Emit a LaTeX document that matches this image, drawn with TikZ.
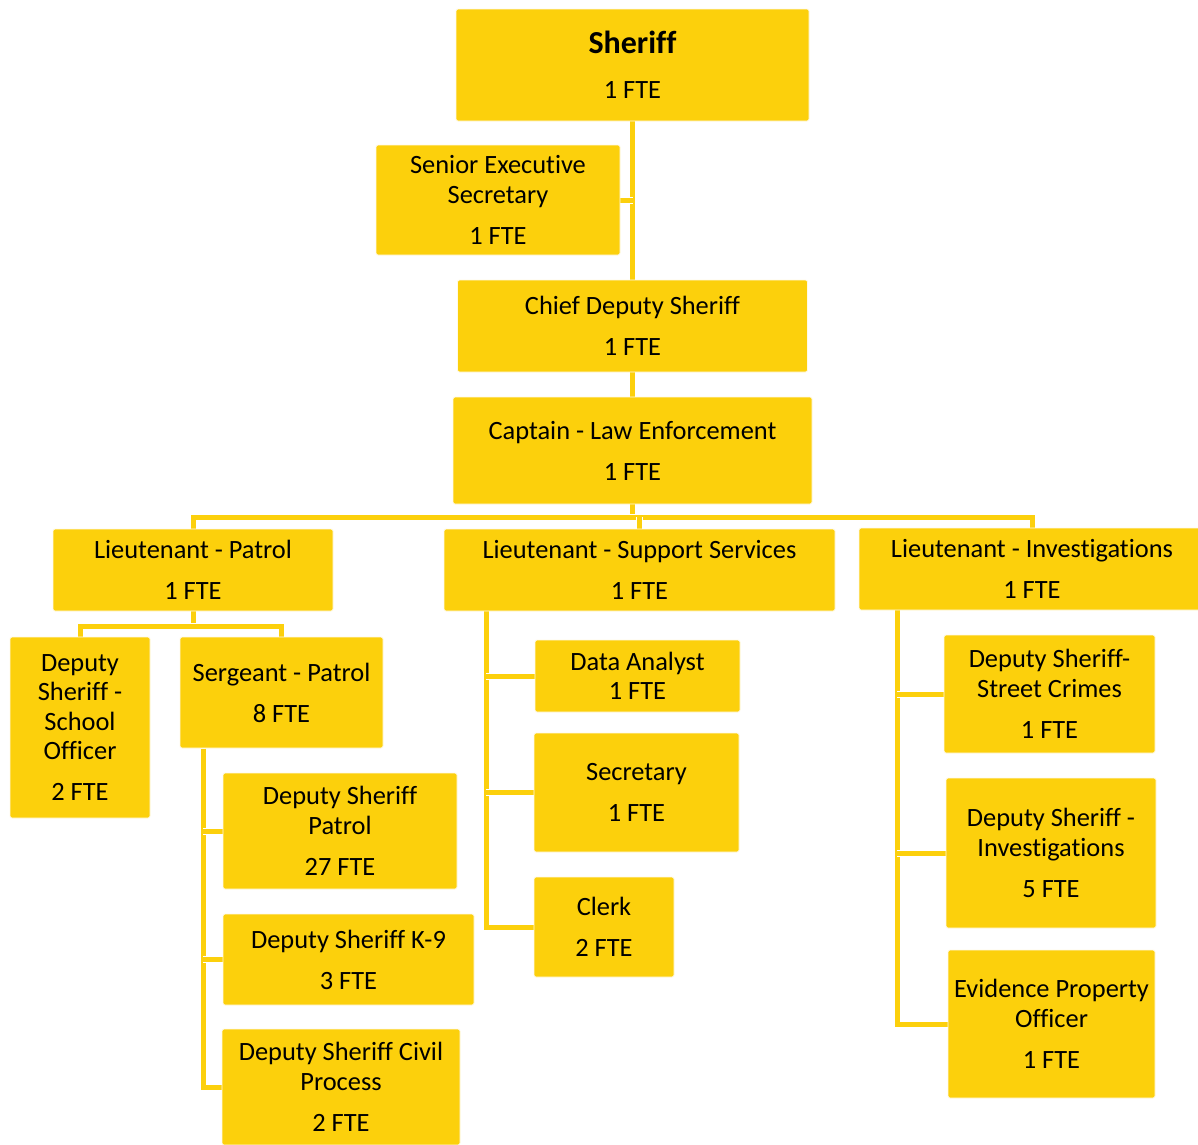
\documentclass[tikz,border=0pt]{standalone}
\usepackage{fontspec}
\setmainfont{Carlito}[Ligatures=NoCommon]
\usetikzlibrary{backgrounds}
\definecolor{yel}{RGB}{252,208,12}
\newcommand{\gp}{\\[11.5pt]}
\tikzset{
  box/.style={fill=yel, draw=white!90!yel, line width=0.8pt, rounded corners=2pt,
    inner sep=0pt, align=center, text=black,
    font=\fontsize{26.4}{29.5}\selectfont},
  conn/.style={draw=yel, line width=5pt, preaction={draw=white, line width=7pt}},
}
\begin{document}
\begin{tikzpicture}[x=1pt,y=-1pt]
\clip (0,0) rectangle (1198,1144);
\useasboundingbox (0,0) rectangle (1198,1144);

\node[box, minimum width=353, minimum height=112] (sheriff) at (632.5,65)
  {{\fontsize{32}{36}\selectfont\bfseries Sheriff}\\[16pt]1 FTE};
\node[box, minimum width=244, minimum height=110] (sec) at (498,200)
  {Senior Executive\\Secretary\gp 1 FTE};
\node[box, minimum width=350, minimum height=92] (chief) at (632.5,326)
  {Chief Deputy Sheriff\gp 1 FTE};
\node[box, minimum width=359, minimum height=107] (captain) at (632.5,450.5)
  {Captain - Law Enforcement\gp 1 FTE};
\node[box, minimum width=280, minimum height=82] (ltpat) at (193,570)
  {Lieutenant - Patrol\gp 1 FTE};
\node[box, minimum width=391, minimum height=82] (ltsup) at (639.5,570)
  {Lieutenant - Support Services\gp 1 FTE};
\node[box, minimum width=346, minimum height=82] (ltinv) at (1032,569)
  {Lieutenant - Investigations\gp 1 FTE};
\node[box, minimum width=140, minimum height=181] (school) at (80,727.5)
  {Deputy\\Sheriff -\\School\\Officer\gp 2 FTE};
\node[box, minimum width=203, minimum height=111] (sgt) at (281.5,692.5)
  {Sergeant - Patrol\gp 8 FTE};
\node[box, minimum width=234, minimum height=116] (dspat) at (340,831)
  {Deputy Sheriff\\Patrol\gp 27 FTE};
\node[box, minimum width=251, minimum height=91] (k9) at (348.5,959.5)
  {Deputy Sheriff K-9\gp 3 FTE};
\node[box, minimum width=238, minimum height=116] (civil) at (341,1087)
  {Deputy Sheriff Civil\\Process\gp 2 FTE};
\node[box, minimum width=205, minimum height=72] (data) at (637.5,676)
  {Data Analyst\\1 FTE};
\node[box, minimum width=205, minimum height=119] (secy) at (636.5,792.5)
  {Secretary\gp 1 FTE};
\node[box, minimum width=140, minimum height=100] (clerk) at (604,927)
  {Clerk\gp 2 FTE};
\node[box, minimum width=211, minimum height=118] (street) at (1049.5,694)
  {Deputy Sheriff-\\Street Crimes\gp 1 FTE};
\node[box, minimum width=210, minimum height=150] (dsinv) at (1051,853)
  {Deputy Sheriff -\\Investigations\gp 5 FTE};
\node[box, minimum width=207, minimum height=148] (evid) at (1051.5,1024)
  {Evidence Property\\Officer\gp 1 FTE};

\coordinate (bus) at (632.5,517);
\coordinate (pbus) at (193,626);
\coordinate (sgtT) at (203,748.5);
\coordinate (supT) at (486,611);
\coordinate (invT) at (897,610);

\begin{scope}[on background layer]
\fill[white] (0,0) rectangle (1198,1144);
\draw[conn] (sheriff.south) -- (chief.north);
\draw[conn] (chief.south) -- (captain.north);
\draw[conn] (sec.east) -- (sec.east -| sheriff.south);
\draw[conn] (captain.south) -- (bus);
\draw[conn] (ltpat.north) |- (bus) -| (ltinv.north);
\draw[conn] (ltsup.north) -- (ltsup.north |- bus);
\draw[conn] (ltpat.south) -- (pbus);
\draw[conn] (school.north) |- (pbus) -| (sgt.north);
\draw[conn] (sgtT) |- (civil.west);
\draw[conn] (sgtT |- dspat.west) -- (dspat.west);
\draw[conn] (sgtT |- k9.west) -- (k9.west);
\draw[conn] (supT) |- (clerk.west);
\draw[conn] (supT |- data.west) -- (data.west);
\draw[conn] (supT |- secy.west) -- (secy.west);
\draw[conn] (invT) |- (evid.west);
\draw[conn] (invT |- street.west) -- (street.west);
\draw[conn] (invT |- dsinv.west) -- (dsinv.west);
\end{scope}
\end{tikzpicture}
\end{document}
